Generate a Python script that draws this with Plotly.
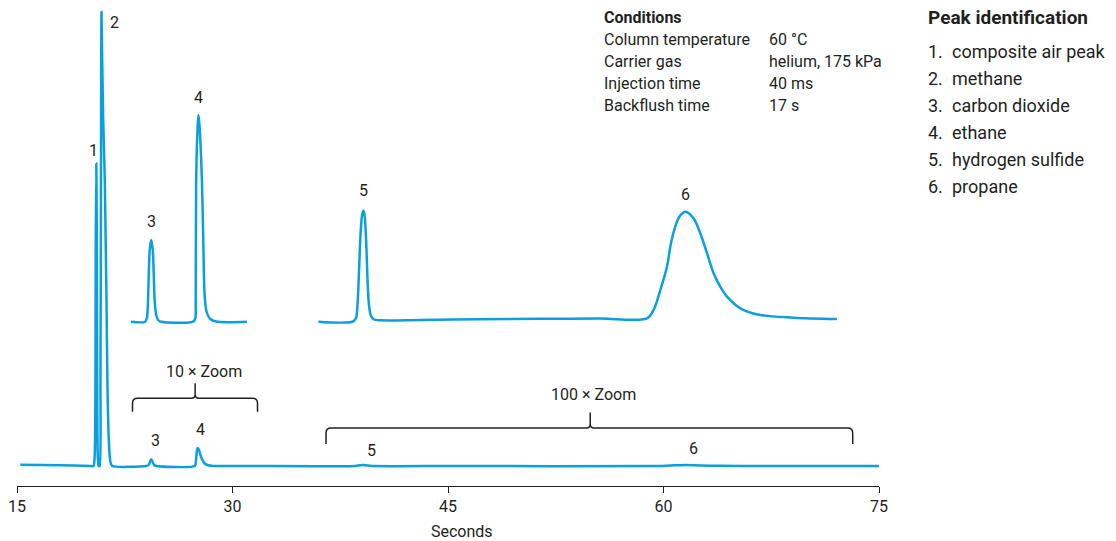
import plotly.graph_objects as go

# ---------------- data ----------------
# Main chromatogram: retention time (s) and detector signal (arbitrary units)
main_time = [15.23, 18.01, 20.10, 20.33, 20.41, 20.46, 20.48, 20.52, 20.56, 20.58,
             20.62, 20.68, 20.75, 20.81, 20.85, 20.88, 20.93, 21.00, 21.11, 21.18,
             21.23, 21.29, 21.39, 21.49, 21.63, 23.99, 24.17, 24.26, 24.34, 24.43,
             24.54, 24.69, 27.37, 27.46, 27.52, 27.58, 27.65, 27.75, 27.89, 28.06,
             28.31, 28.65, 31.23, 38.53, 38.88, 39.09, 39.37, 39.71, 45.14, 59.74,
             60.79, 61.55, 62.53, 63.92, 66.70, 75.0]
main_signal = [1.3, 0.8, 0, 0, 11, 86, 216, 302.5, 216, 86,
               11, 0, 0, 86, 316, 454, 406, 346, 286, 216,
               166, 86, 26, 5, 0, 0, 1, 4.5, 6.7, 4.5,
               1, 0, 0, 6, 15, 18, 16.5, 12, 6.5, 2.5,
               0.7, 0, 0, 0, 0.8, 1, 0.5, 0, 0, 0,
               0.7, 1, 0.6, 0.2, 0, 0]

# 10 x zoom window (peaks 3 and 4)
zoom10_time = [22.93, 23.92, 24.04, 24.12, 24.17, 24.24, 24.34, 24.45, 24.52, 24.58,
               24.69, 24.85, 25.04, 27.26, 27.40, 27.44, 27.47, 27.58, 27.63, 27.70,
               27.87, 27.98, 28.06, 28.20, 28.45, 28.86, 31.00]
zoom10_signal = [0, 0, 3.7, 21.7, 46.7, 71.7, 81.7, 71.7, 46.7, 21.7,
                 6.7, 1.2, 0, 0, 2.7, 21.7, 141.7, 196.7, 206.7, 196.7,
                 141.7, 71.7, 26.7, 9.7, 2.7, 0.2, 0]

# 100 x zoom window (peaks 5 and 6)
zoom100_time = [35.98, 38.39, 38.60, 38.70, 38.81, 38.91, 39.02, 39.11, 39.19, 39.30,
                39.40, 39.50, 39.64, 39.85, 40.27, 43.05, 47.22, 51.40, 55.57, 58.85,
                59.31, 59.78, 60.24, 60.52, 60.82, 61.10, 61.52, 62.09, 62.56, 63.03,
                63.49, 63.95, 64.42, 65.35, 66.74, 69.05, 72.07]
zoom100_signal = [0, 0.2, 3.7, 16.7, 51.7, 86.7, 106.7, 111, 106.7, 81.7,
                  41.7, 16.7, 5.7, 2.2, 1.4, 1.7, 2.4, 2.9, 3.2, 3.4,
                  11.7, 31.7, 55, 78.4, 95, 105, 110, 103.4, 88.4, 68.4,
                  48.4, 35, 25, 13.4, 6.7, 4, 2.7]

tick_vals = [15, 30, 45, 60, 75]
x_title = "Seconds"

# peak number labels: (text, time, signal)
peak_labels = [("1", 20.29, 316), ("2", 21.79, 444), ("3", 24.34, 245), ("4", 27.63, 369),
               ("5", 39.09, 276), ("6", 61.55, 272),
               ("3", 24.62, 26), ("4", 27.75, 37), ("5", 39.69, 16), ("6", 62.06, 18)]

zoom_labels = [("10 × Zoom", 28.03, 95), ("100 × Zoom", 55.15, 72)]
# braces: (start, end, middle time)
zoom_spans = [(23.04, 31.74, 27.40), (36.51, 73.17, 54.90)]

conditions_title = "Conditions"
condition_names = ["Column temperature", "Carrier gas", "Injection time", "Backflush time"]
condition_values = ["60 °C", "helium, 175 kPa", "40 ms", "17 s"]

peak_title = "Peak identification"
peak_names = ["composite air peak", "methane", "carbon dioxide", "ethane",
              "hydrogen sulfide", "propane"]

# ---------------- styling ----------------
BLUE = "#0A9FDD"
INK = "#231F20"
FONT = "Roboto, Liberation Sans, sans-serif"
INSET_OFFSET = 144.3

W, H = 1116, 541
ML, MR, MT, MB = 17, 237, 0, 55
PW, PH = W - ML - MR, H - MT - MB


def px_x(px):
    return (px - ML) / PW


def px_y(py):
    return (H - MB - py) / PH


def text_at(px, py, text, size, xanchor="left"):
    return dict(x=px_x(px), y=px_y(py), xref="paper", yref="paper", text=text,
                showarrow=False, xanchor=xanchor, yanchor="middle",
                font=dict(size=size, color=INK, family=FONT))


fig = go.Figure()
line_main = dict(color=BLUE, width=2.5, shape="spline", smoothing=0.6)
line_zoom = dict(color=BLUE, width=2.5, shape="spline", smoothing=0.9)
fig.add_trace(go.Scatter(x=main_time, y=main_signal, mode="lines", line=line_main,
                         hoverinfo="skip", showlegend=False))
fig.add_trace(go.Scatter(x=zoom10_time, y=[v + INSET_OFFSET for v in zoom10_signal],
                         mode="lines", line=line_zoom, hoverinfo="skip", showlegend=False))
fig.add_trace(go.Scatter(x=zoom100_time, y=[v + INSET_OFFSET for v in zoom100_signal],
                         mode="lines", line=line_zoom, hoverinfo="skip", showlegend=False))

annotations = []
for txt, t, s in peak_labels + zoom_labels:
    annotations.append(dict(x=t, y=s, xref="x", yref="y", text=txt, showarrow=False,
                            xanchor="center", yanchor="middle",
                            font=dict(size=16, color=INK, family=FONT)))

# braces
brace_levels = [(54.3, 67.7, 82.7), (22.0, 38.0, 53.5)]
shapes = []
for (x0, x1, xm), (ye, yh, yt) in zip(zoom_spans, brace_levels):
    rx, ry, mrx, mry = 0.35, 5, 0.25, 4
    path = (f"M {x0},{ye} L {x0},{yh - ry} Q {x0},{yh} {x0 + rx},{yh} "
            f"L {xm - mrx},{yh} Q {xm},{yh} {xm},{yh + mry} L {xm},{yt} "
            f"L {xm},{yh + mry} Q {xm},{yh} {xm + mrx},{yh} "
            f"L {x1 - rx},{yh} Q {x1},{yh} {x1},{yh - ry} L {x1},{ye}")
    shapes.append(dict(type="path", path=path, xref="x", yref="y",
                       line=dict(color=INK, width=1.5), fillcolor="rgba(0,0,0,0)"))

# x axis title
annotations.append(text_at(462, 531, x_title, 16, xanchor="center"))

# conditions block
annotations.append(text_at(602, 17, f"<b>{conditions_title}</b>", 16))
for i, (n, v) in enumerate(zip(condition_names, condition_values)):
    py = 39 + i * 22.3
    annotations.append(text_at(602, py, n, 16))
    annotations.append(text_at(767, py, v, 16))

# peak identification block
annotations.append(text_at(926, 17, f"<b>{peak_title}</b>", 19))
for i, name in enumerate(peak_names):
    py = 52 + i * 26.8
    annotations.append(text_at(926, py, f"{i + 1}.", 18))
    annotations.append(text_at(950, py, name, 18))

fig.update_layout(
    width=W, height=H,
    margin=dict(l=ML, r=MR, t=MT, b=MB, pad=0),
    paper_bgcolor="white", plot_bgcolor="white",
    showlegend=False,
    annotations=annotations, shapes=shapes,
    font=dict(family=FONT, color=INK),
)
fig.update_xaxes(range=[15, 75], tickvals=tick_vals, ticks="outside", ticklen=6,
                 tickwidth=1, tickcolor=INK, showline=True, linecolor=INK, linewidth=1,
                 showgrid=False, zeroline=False, tickfont=dict(size=16, color=INK, family=FONT),
                 fixedrange=True)
fig.update_yaxes(range=[-20, 466], visible=False, showgrid=False, zeroline=False,
                 fixedrange=True)

fig.write_html("out.html", config=dict(displayModeBar=False),
               post_script="document.body.style.margin='0';document.body.style.overflow='hidden';")
